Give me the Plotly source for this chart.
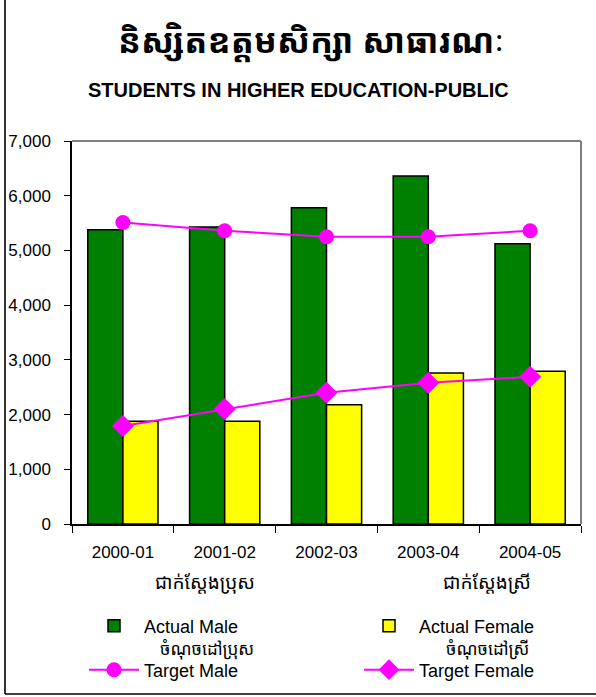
"""
Students in higher education - public
Actual vs target enrolment by sex, 2000-01 to 2004-05
"""

import plotly.graph_objects as go

# Data
YEARS = ['2000-01', '2001-02', '2002-03', '2003-04', '2004-05']
ACTUAL_MALE = [5380, 5430, 5780, 6360, 5120]
ACTUAL_FEMALE = [1880, 1880, 2180, 2760, 2790]
TARGET_MALE = [5510, 5360, 5250, 5250, 5360]
TARGET_FEMALE = [1790, 2100, 2400, 2580, 2690]
Y_TICKS = [0, 1000, 2000, 3000, 4000, 5000, 6000, 7000]

TITLE_KH = 'និស្សិតឧត្តមសិក្សា សាធារណៈ'
TITLE_EN = 'STUDENTS IN HIGHER EDUCATION-PUBLIC'
LABEL_ACTUAL_MALE_KH = 'ជាក់ស្តែងប្រុស'
LABEL_ACTUAL_FEMALE_KH = 'ជាក់ស្តែងស្រី'
LABEL_TARGET_MALE_KH = 'ចំណុចដៅប្រុស'
LABEL_TARGET_FEMALE_KH = 'ចំណុចដៅស្រី'

# Layout
W, H = 596, 697
L, R, T, B = 72, 15, 141, 173
FONT = 'Liberation Sans, Arial, sans-serif'
KH_FONT = 'Khmer OS, Noto Sans Khmer, Noto Sans, sans-serif'

GREEN = '#008000'
YELLOW = '#FFFF00'
MAGENTA = '#FF00FF'


def px_x(x):
    """pixel x -> paper x"""
    return (x - L) / (W - L - R)


def px_y(y):
    """pixel y -> paper y"""
    return (H - B - y) / (H - T - B)


fig = go.Figure()

fig.add_trace(go.Bar(
    name='Actual Male', x=YEARS, y=ACTUAL_MALE,
    marker=dict(color=GREEN, line=dict(color='black', width=1.5)),
    legend='legend'
))
fig.add_trace(go.Bar(
    name='Actual Female', x=YEARS, y=ACTUAL_FEMALE,
    marker=dict(color=YELLOW, line=dict(color='black', width=1.5)),
    legend='legend2'
))
fig.add_trace(go.Scatter(
    name='Target Male', x=YEARS, y=TARGET_MALE, mode='lines+markers',
    line=dict(color=MAGENTA, width=2),
    marker=dict(symbol='circle', size=15, color=MAGENTA),
    legend='legend3'
))
fig.add_trace(go.Scatter(
    name='Target Female', x=YEARS, y=TARGET_FEMALE, mode='lines+markers',
    line=dict(color=MAGENTA, width=2),
    marker=dict(symbol='diamond', size=17, color=MAGENTA),
    legend='legend4'
))

legend_style = dict(
    xanchor='left', yanchor='middle', itemwidth=50,
    font=dict(family=FONT, size=18, color='black'),
    bgcolor='rgba(0,0,0,0)'
)

annotations = [
    dict(text=f'<b>{TITLE_KH}</b>', x=px_x(311), y=px_y(40),
         font=dict(family=KH_FONT, size=34, color='black')),
    dict(text=f'<b>{TITLE_EN}</b>', x=px_x(298), y=px_y(90),
         font=dict(family=FONT, size=20, color='black')),
    dict(text=LABEL_ACTUAL_MALE_KH, x=px_x(205), y=px_y(582),
         font=dict(family=KH_FONT, size=19, color='black')),
    dict(text=LABEL_ACTUAL_FEMALE_KH, x=px_x(487), y=px_y(582),
         font=dict(family=KH_FONT, size=19, color='black')),
    dict(text=LABEL_TARGET_MALE_KH, x=px_x(207), y=px_y(648),
         font=dict(family=KH_FONT, size=17, color='black')),
    dict(text=LABEL_TARGET_FEMALE_KH, x=px_x(487), y=px_y(648),
         font=dict(family=KH_FONT, size=17, color='black')),
]
for a in annotations:
    a.update(xref='paper', yref='paper', showarrow=False,
             xanchor='center', yanchor='middle')

shapes = [
    # plot area border (top / right)
    dict(type='line', xref='paper', yref='paper', x0=0, x1=1, y0=1, y1=1,
         line=dict(color='#808080', width=2)),
    dict(type='line', xref='paper', yref='paper', x0=1, x1=1, y0=0, y1=1,
         line=dict(color='#808080', width=2)),
    # outer frame (left / bottom)
    dict(type='line', xref='paper', yref='paper', x0=px_x(5), x1=px_x(5),
         y0=px_y(-2), y1=px_y(694), line=dict(color='#333333', width=2)),
    dict(type='line', xref='paper', yref='paper', x0=px_x(5), x1=px_x(600),
         y0=px_y(694), y1=px_y(694), line=dict(color='black', width=1.5)),
]

fig.update_layout(
    width=W, height=H,
    margin=dict(l=L, r=R, t=T, b=B, autoexpand=False),
    paper_bgcolor='white', plot_bgcolor='white',
    font=dict(family=FONT, size=17, color='black'),
    barmode='group', bargap=0.31, bargroupgap=0,
    showlegend=True,
    legend=dict(x=px_x(84), y=px_y(626), **legend_style),
    legend2=dict(x=px_x(359), y=px_y(626), **legend_style),
    legend3=dict(x=px_x(84), y=px_y(670), **legend_style),
    legend4=dict(x=px_x(359), y=px_y(670), **legend_style),
    annotations=annotations,
    shapes=shapes,
    xaxis=dict(
        type='category', showline=True, linecolor='black', linewidth=1.5,
        ticks='outside', ticklen=7, tickcolor='black', tickson='boundaries',
        showgrid=False, tickfont=dict(family=FONT, size=17), ticklabelstandoff=12
    ),
    yaxis=dict(
        range=[0, 7000], tickvals=Y_TICKS, tickformat=',d',
        showline=True, linecolor='black', linewidth=1.5,
        ticks='outside', ticklen=6, tickcolor='black',
        showgrid=False, zeroline=False, tickfont=dict(family=FONT, size=17),
        ticklabelstandoff=10
    ),
)

# page margin off so the figure sits at the window's top-left corner
fig.write_html('out.html', config={'displayModeBar': False},
               post_script="document.body.style.margin = '0';")
print('[OK] Saved: out.html')
